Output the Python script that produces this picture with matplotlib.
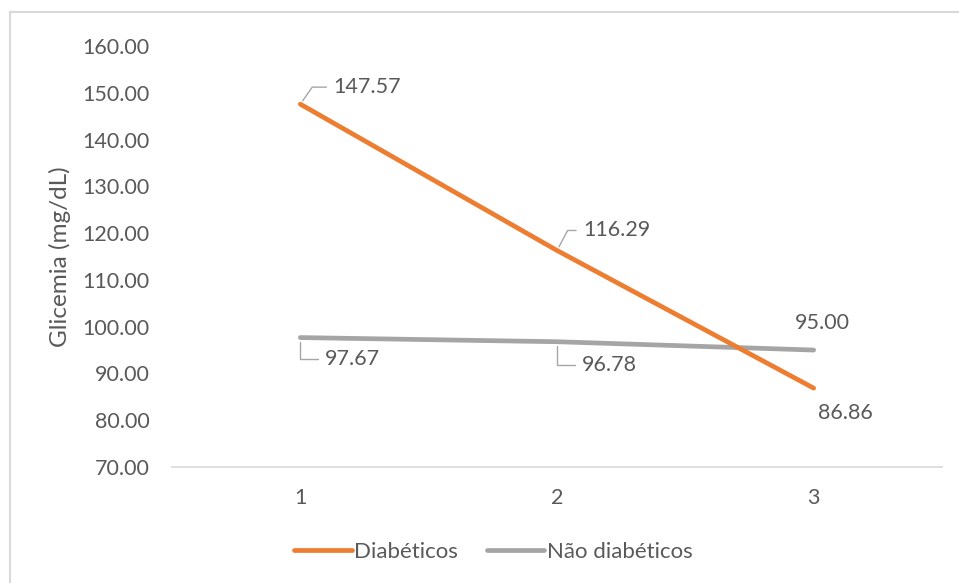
import matplotlib
matplotlib.use("Agg")
import matplotlib.pyplot as plt
from matplotlib.lines import Line2D

# Data
x_labels = ["1", "2", "3"]
diabeticos = [147.57, 116.29, 86.86]
nao_diabeticos = [97.67, 96.78, 95.00]
y_ticks = [70, 80, 90, 100, 110, 120, 130, 140, 150, 160]

ORANGE = "#ED7D31"
GRAY = "#A5A5A5"
TEXT = "#595959"
FONT = "Lato"
NUM_SIZE = 15.5

plt.rcParams["font.family"] = [FONT, "DejaVu Sans"]

fig = plt.figure(figsize=(9.59, 5.83), dpi=100)
fig.patch.set_facecolor("white")

# chart frame (left and top edges visible)
fig.add_artist(Line2D([9.5 / 959, 9.5 / 959], [0, 1 - 12 / 583],
                      transform=fig.transFigure, color="#D9D9D9", lw=1.5))
fig.add_artist(Line2D([9.5 / 959, 1], [1 - 12 / 583, 1 - 12 / 583],
                      transform=fig.transFigure, color="#D9D9D9", lw=1.5))

ax = fig.add_axes([172 / 959, 1 - 467 / 583, (942 - 172) / 959, (467 - 46) / 583])
xs = [1, 2, 3]
l1, = ax.plot(xs, diabeticos, color=ORANGE, lw=3.4, solid_capstyle="round", zorder=3)
l2, = ax.plot(xs, nao_diabeticos, color=GRAY, lw=3.4, solid_capstyle="round", zorder=2)

ax.set_xlim(0.5, 3.5)
ax.set_ylim(70, 160)
ax.set_yticks(y_ticks)
ax.set_yticklabels([f"{v:.2f}" for v in y_ticks])
ax.set_xticks(xs)
ax.set_xticklabels(x_labels)
ax.tick_params(axis="both", length=0, labelsize=NUM_SIZE, labelcolor=TEXT)
ax.tick_params(axis="y", pad=16)
ax.tick_params(axis="x", pad=15)
for s in ["left", "right", "top"]:
    ax.spines[s].set_visible(False)
ax.spines["bottom"].set_color("#D9D9D9")
ax.spines["bottom"].set_linewidth(1.2)
ax.set_ylabel("Glicemia (mg/dL)", fontsize=17.5, color=TEXT, labelpad=8)

# data labels: (x index, value, text offset in pixels, alignment, leader angle or None)
label_specs = [
    (1, diabeticos[0], (33, 17), "left", 55),
    (2, diabeticos[1], (26, 20), "left", 62),
    (3, diabeticos[2], (32, -25), "center", None),
    (1, nao_diabeticos[0], (25, -21), "left", -90),
    (2, nao_diabeticos[1], (25, -23), "left", -90),
    (3, nao_diabeticos[2], (9, 27), "center", None),
]
for xi, val, off, ha, angB in label_specs:
    kw = {}
    if angB is not None:
        kw["arrowprops"] = dict(arrowstyle="-", color="#A6A6A6", lw=1.0,
                                connectionstyle=f"angle,angleA=0,angleB={angB},rad=0",
                                relpos=(0, 0.5), shrinkA=3, shrinkB=3)
    ax.annotate(f"{val:.2f}", xy=(xi, val), xytext=off, textcoords="offset pixels",
                ha=ha, va="center", fontsize=NUM_SIZE, color=TEXT, **kw)

leg = fig.legend([l1, l2], ["Diabéticos", "Não diabéticos"], loc="center",
                 bbox_to_anchor=(493 / 959, 1 - 552 / 583), ncol=2, frameon=False,
                 fontsize=16, handlelength=2.6, handletextpad=0.1, columnspacing=1.3)
for t in leg.get_texts():
    t.set_color(TEXT)

fig.savefig("out.png", dpi=100, facecolor="white")
